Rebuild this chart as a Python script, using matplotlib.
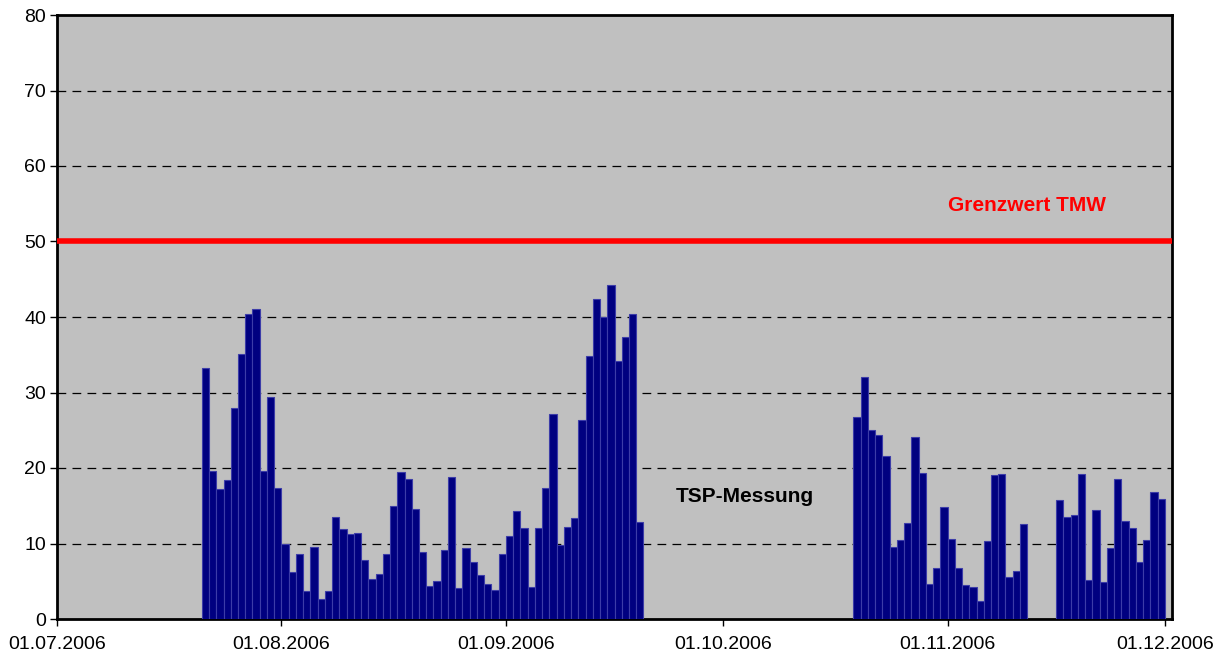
import matplotlib.pyplot as plt
import matplotlib.dates as mdates
import pandas as pd

plt.rcParams['font.family'] = ['Liberation Sans', 'DejaVu Sans']

# TSP daily means, three measuring periods
start1 = "2006-07-21"
tsp1 = [33.2, 19.6, 17.2, 18.4, 28.0, 35.1, 40.4, 41.1, 19.6, 29.4,
        17.3, 9.9, 6.2, 8.6, 3.7, 9.6, 2.6, 3.7, 13.5, 11.9,
        11.3, 11.4, 7.8, 5.3, 5.9, 8.6, 15.0, 19.5, 18.5, 14.6,
        8.9, 4.4, 5.0, 9.2, 18.8, 4.1, 9.4, 7.5, 5.8, 4.6,
        3.9, 8.6, 11.0, 14.3, 12.0, 4.3, 12.1, 17.4, 27.2, 9.8,
        12.2, 13.4, 26.3, 34.9, 42.4, 40.0, 44.2, 34.2, 37.4, 40.4,
        12.8]
start2 = "2006-10-19"
tsp2 = [26.7, 32.1, 25.0, 24.4, 21.6, 9.6, 10.4, 12.7, 24.1, 19.4,
        4.6, 6.8, 14.8, 10.6, 6.8, 4.5, 4.3, 2.4, 10.3, 19.1,
        19.2, 5.6, 6.4, 12.6]
start3 = "2006-11-16"
tsp3 = [15.7, 13.5, 13.8, 19.2, 5.2, 14.5, 4.9, 9.4, 18.6, 13.0,
        12.1, 7.5, 10.5, 16.8, 15.9]

grenzwert = 50
yticks = [0, 10, 20, 30, 40, 50, 60, 70, 80]
xticks = ["2006-07-01", "2006-08-01", "2006-09-01", "2006-10-01",
          "2006-11-01", "2006-12-01"]

fig = plt.figure(figsize=(12.28, 6.61), dpi=100)
ax = fig.add_axes([57 / 1228, 42 / 661, (1172 - 57) / 1228, (619 - 15) / 661])
ax.set_facecolor("#C0C0C0")

for start, vals in [(start1, tsp1), (start2, tsp2), (start3, tsp3)]:
    d = pd.date_range(start, periods=len(vals), freq="D")
    ax.bar(d, vals, width=1, align="edge", color="#000080",
           edgecolor="#3C3CA8", linewidth=0.8, zorder=3)

ax.axhline(grenzwert, color="#FF0000", linewidth=4, zorder=4)

for y in yticks[1:-1]:
    ax.axhline(y, color="black", linestyle=(0, (7, 5)), linewidth=0.9, zorder=1)

ax.set_xlim(pd.Timestamp("2006-07-01"), pd.Timestamp("2006-12-02"))
ax.set_ylim(0, 80)
ax.set_yticks(yticks)
ax.set_xticks(pd.to_datetime(xticks))
ax.xaxis.set_major_formatter(mdates.DateFormatter("%d.%m.%Y"))
ax.tick_params(axis="both", labelsize=14, direction="out", length=5,
               width=1, colors="black")
ax.tick_params(axis="x", pad=7)
ax.tick_params(axis="y", pad=3)

for s in ax.spines.values():
    s.set_linewidth(2)
    s.set_color("black")

ax.text(pd.Timestamp("2006-11-12"), 54.8, "Grenzwert TMW", color="#FF0000",
        fontsize=15, fontweight="bold", ha="center", va="center")
ax.text(pd.Timestamp("2006-10-04"), 16.2, "TSP-Messung",
        color="black", fontsize=15, fontweight="bold", ha="center", va="center")

fig.savefig("out.png", dpi=100)
